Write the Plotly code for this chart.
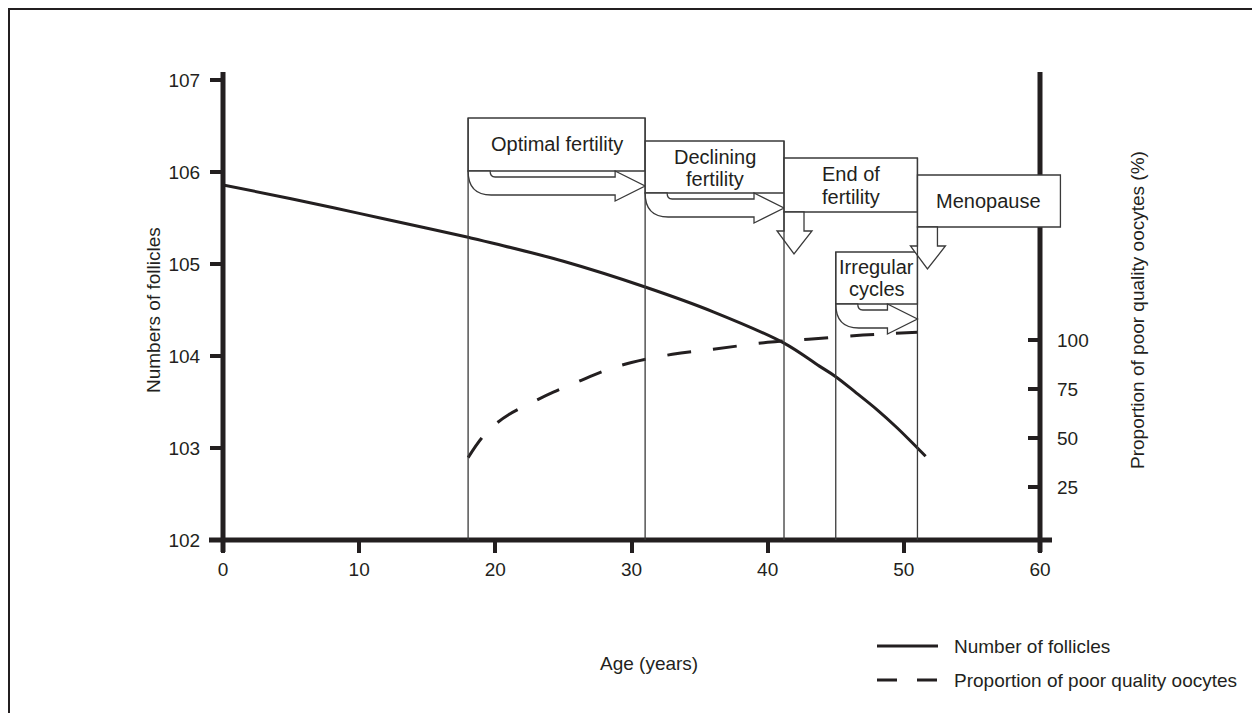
import plotly.graph_objects as go

# ---------------- data ----------------
ages_follicles = [0, 5, 10, 15, 18, 20, 25, 31, 36, 41.2, 43.8, 45, 46.5, 48, 49.5, 51, 51.6]
follicles = [724000, 513000, 355000, 245000, 195000, 166000, 107000, 56200, 30200,
             13800, 7760, 5960, 3980, 2630, 1660, 1000, 813]

ages_oocytes = [18, 19, 20, 21, 22.5, 24.3, 26, 28, 30, 33, 36, 40, 43, 47, 51]
poor_quality_pct = [40, 50, 57, 62, 67.5, 73.5, 78.5, 84.3, 88.5, 92.7, 95.3, 98.8, 100.4, 102.5, 104]

x_ticks = [0, 10, 20, 30, 40, 50, 60]
y_ticks = [1e2, 1e3, 1e4, 1e5, 1e6, 1e7]
y_ticktext = ["102", "103", "104", "105", "106", "107"]
y2_ticks = [25, 50, 75, 100]

phase_lines = [["Optimal fertility"], ["Declining", "fertility"], ["End of", "fertility"],
               ["Irregular", "cycles"], ["Menopause"]]
phase_start = [18, 31, 41.2, 45, 51]
phase_end = [31, 41.2, 51, 51, 61.5]
phase_arrow = ["right", "right", "down", "right", "down"]

legend_names = ["Number of follicles", "Proportion of poor quality oocytes"]

# ---------------- style / layout (pixels, page coordinates) ----------------
OFF = 8                      # default page margin of the html body
W, H = 1260 - OFF, 713 - OFF
L, T, PW, PH = 223, 80, 817, 460   # plot area in page pixels
BASE = T + PH
INK = "#231f20"
THIN = "#3a3a3a"
FONT = "Liberation Sans, Arial, sans-serif"
FS = 19
FS_BOX = 20

box_top = [118, 141, 158, 252, 175]
box_bot = [171, 193, 212, 304, 227]
text_y = [[144], [157, 179], [174, 197], [267, 289], [201]]


def xpx(age):
    return L + age / 60.0 * PW


def px(x, y):
    return (x - L) / PW, (BASE - y) / PH


def path(cmds):
    out = []
    for c in cmds:
        if isinstance(c, str):
            out.append(c)
        else:
            a, b = px(*c)
            out.append(f"{a:.5f},{b:.5f}")
    return " ".join(out)


shapes = []
annotations = []

# outer frame
fx0, fy0 = px(9, 9)
fx1, fy1 = px(1254, 760)
shapes.append(dict(type="rect", xref="paper", yref="paper", x0=fx0, y0=fy1, x1=fx1, y1=fy0,
                   line=dict(color=INK, width=2), fillcolor="rgba(0,0,0,0)", layer="above"))

# thick axis lines
for (xa, ya, xb, yb) in [(L, 72, L, 552), (L + PW, 72, L + PW, 552), (209, BASE, 1052, BASE)]:
    a0, b0 = px(xa, ya)
    a1, b1 = px(xb, yb)
    shapes.append(dict(type="line", xref="paper", yref="paper", x0=a0, y0=b0, x1=a1, y1=b1,
                       line=dict(color=INK, width=5), layer="above"))

# phase boxes + arrows
for i in range(len(phase_start)):
    xl, xr = xpx(phase_start[i]), xpx(phase_end[i])
    yt, yb = box_top[i], box_bot[i]
    a0, b0 = px(xl, yt)
    a1, b1 = px(xr, yb)
    shapes.append(dict(type="rect", xref="paper", yref="paper", x0=a0, y0=b1, x1=a1, y1=b0,
                       line=dict(color=THIN, width=1.3), fillcolor="white", layer="above"))
    if phase_arrow[i] == "right":
        cmds = ["M", (xl, yb), "Q", (xl, yb + 24), (xl + 23, yb + 24),
                "L", (xr - 30, yb + 24), "L", (xr - 30, yb + 30), "L", (xr, yb + 15),
                "L", (xr - 30, yb), "L", (xr - 30, yb + 6), "L", (xl + 27, yb + 6),
                "Q", (xl + 22, yb + 6), (xl + 22, yb), "Z"]
    else:
        cmds = ["M", (xl, yb), "L", (xl, yb + 19), "L", (xl - 7, yb + 19), "L", (xl + 10, yb + 42),
                "L", (xl + 28, yb + 19), "L", (xl + 20, yb + 19), "L", (xl + 20, yb), "Z"]
    shapes.append(dict(type="path", xref="paper", yref="paper", path=path(cmds),
                       line=dict(color=THIN, width=1.3), fillcolor="white", layer="above"))
    cx = (xl + min(xr, xpx(60) + 20)) / 2
    for line_txt, ty in zip(phase_lines[i], text_y[i]):
        ax, ay = px(cx, ty)
        annotations.append(dict(text=line_txt, x=ax, y=ay, xref="paper", yref="paper",
                                showarrow=False, xanchor="center", yanchor="middle",
                                font=dict(family=FONT, size=FS_BOX, color=INK)))

# vertical phase lines down to the axis
line_tops = {18: 118, 31: 118, 41.2: 141, 45: 252, 51: 158}
for age, top in line_tops.items():
    a0, b0 = px(xpx(age), top)
    a1, b1 = px(xpx(age), BASE)
    shapes.append(dict(type="line", xref="paper", yref="paper", x0=a0, y0=b0, x1=a1, y1=b1,
                       line=dict(color=THIN, width=1.3), layer="above"))

# legend (drawn)
for name, ly, dash in zip(legend_names, [646, 680], ["solid", "20px,20px"]):
    a0, b0 = px(877, ly)
    a1, b1 = px(938, ly)
    shapes.append(dict(type="line", xref="paper", yref="paper", x0=a0, y0=b0, x1=a1, y1=b1,
                       line=dict(color=INK, width=3, dash=dash), layer="above"))
    tx, ty = px(952, ly)
    annotations.append(dict(text=name, x=tx, y=ty, xref="paper", yref="paper", showarrow=False,
                            xanchor="left", yanchor="middle",
                            font=dict(family=FONT, size=FS, color=INK)))

# axis titles
for txt, x, y, ang in [("Numbers of follicles", 153, 310, -90),
                       ("Proportion of poor quality oocytes (%)", 1137, 310, -90),
                       ("Age (years)", 649, 663, 0)]:
    ax, ay = px(x, y)
    annotations.append(dict(text=txt, x=ax, y=ay, xref="paper", yref="paper", showarrow=False,
                            xanchor="center", yanchor="middle", textangle=ang,
                            font=dict(family=FONT, size=FS, color=INK)))

fig = go.Figure()
fig.add_trace(go.Scatter(x=ages_follicles, y=follicles, mode="lines", name=legend_names[0],
                         line=dict(color=INK, width=3, shape="spline"), yaxis="y"))
fig.add_trace(go.Scatter(x=ages_oocytes, y=poor_quality_pct, mode="lines", name=legend_names[1],
                         line=dict(color=INK, width=3, dash="24px,22px", shape="spline"), yaxis="y2"))

y2_lo = -4 / 1.96
y2_hi = (536 - 80) / 1.96

fig.update_layout(
    width=W, height=H,
    margin=dict(l=L - OFF, r=W - (L - OFF) - PW, t=T - OFF, b=H - (T - OFF) - PH, autoexpand=False),
    paper_bgcolor="white", plot_bgcolor="white",
    showlegend=False,
    font=dict(family=FONT, size=FS, color=INK),
    xaxis=dict(range=[0, 60], tickvals=x_ticks, ticks="outside", ticklen=12, tickwidth=4,
               tickcolor=INK, showline=False, showgrid=False, zeroline=False,
               tickfont=dict(family=FONT, size=FS, color=INK), automargin=False),
    yaxis=dict(type="log", range=[2, 7], tickvals=y_ticks, ticktext=y_ticktext, ticks="outside",
               ticklen=12, tickwidth=4, tickcolor=INK, showline=False, showgrid=False,
               zeroline=False, tickfont=dict(family=FONT, size=FS, color=INK), automargin=False,
               ticklabelstandoff=6),
    yaxis2=dict(overlaying="y", side="right", range=[y2_lo, y2_hi], tickvals=y2_ticks,
                ticks="inside", ticklen=12, tickwidth=4, tickcolor=INK, showline=False,
                showgrid=False, zeroline=False, tickfont=dict(family=FONT, size=FS, color=INK),
                automargin=False, ticklabelstandoff=16),
    shapes=shapes,
    annotations=annotations,
)

fig.write_html("out.html")
